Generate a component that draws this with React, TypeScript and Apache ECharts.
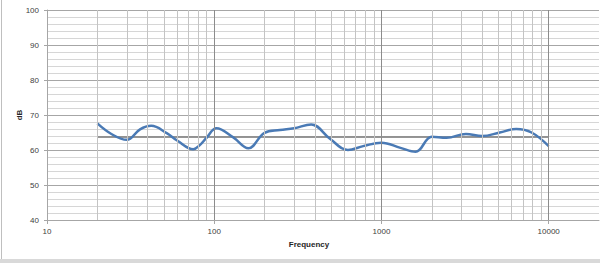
import React, { useEffect, useRef } from "react";
import * as echarts from "echarts";

// Frequency response (Hz -> dB)
const frequencies = [20, 24.4, 30, 36, 42, 52, 60, 75, 82, 90, 103, 130, 160, 200, 247, 300, 380, 490, 630, 778, 1000, 1300, 1600, 2000, 2450, 3200, 4000, 5100, 6400, 7900, 10000];
const levels = [67.6, 64.5, 62.9, 65.9, 66.9, 64.8, 62.7, 60.2, 61.4, 63.5, 66.2, 63.6, 60.5, 64.9, 65.7, 66.2, 67.3, 63.3, 60.0, 61.1, 62.1, 60.6, 59.5, 63.8, 63.5, 64.6, 64.0, 65.0, 66.0, 65.0, 61.1];

// Average level line
const averageLevel = 63.7;
const averageFrom = 20;
const averageTo = 10000;

// Vertical grid lines (Hz)
const gridFrequencies = [20, 30, 40, 50, 60, 70, 80, 90, 100, 200, 300, 400, 500, 600, 700, 800, 900, 1000, 2000, 3000, 4000, 5000, 6000, 7000, 8000, 9000, 10000];
const decadeFrequencies = [100, 1000, 10000];

// Axis ticks / labels
const xTickValues = [10, 100, 1000, 10000];
const yMin = 40;
const yMax = 100;
const yStep = 10;

const FONT = "Liberation Sans";

export default function App() {
  const ref = useRef<HTMLDivElement>(null);

  useEffect(() => {
    if (!ref.current) return;
    const chart = echarts.init(ref.current, undefined, { renderer: "svg" });

    const curve = frequencies.map((f, i) => [f, levels[i]]);

    chart.setOption({
      animation: false,
      backgroundColor: "#ffffff",
      grid: { left: 47, right: 1, top: 10, bottom: 43, containLabel: false },
      xAxis: {
        type: "log",
        logBase: 10,
        min: 10,
        max: 20000,
        axisLine: { show: true, lineStyle: { color: "#a6a6a6", width: 1 } },
        axisTick: { show: true, length: 4, customValues: xTickValues, lineStyle: { color: "#a6a6a6" } },
        axisLabel: {
          customValues: xTickValues,
          color: "#404040",
          fontFamily: FONT,
          fontSize: 8,
          margin: 7,
          formatter: (v: number) => String(Math.round(v)),
        },
        splitLine: { show: false },
        minorSplitLine: { show: false },
      },
      yAxis: {
        type: "value",
        min: yMin,
        max: yMax,
        interval: yStep,
        axisLine: { show: true, lineStyle: { color: "#a6a6a6", width: 1 } },
        axisTick: { show: true, length: 3, lineStyle: { color: "#a6a6a6" } },
        axisLabel: { color: "#404040", fontFamily: FONT, fontSize: 8, margin: 8 },
        splitLine: { show: true, lineStyle: { color: "#a6a6a6", width: 1 } },
        minorTick: { show: false, splitNumber: 5 },
        minorSplitLine: { show: true, lineStyle: { color: "#d6d6d6", width: 1 } },
      },
      series: [
        {
          type: "line",
          data: [],
          silent: true,
          markLine: {
            silent: true,
            symbol: "none",
            label: { show: false },
            animation: false,
            data: gridFrequencies.map((f) => ({
              xAxis: f,
              lineStyle: {
                type: "solid",
                width: 1,
                color: decadeFrequencies.includes(f) ? "#8c8c8c" : "#c4c4c4",
              },
            })),
          },
          z: 1,
        },
        {
          type: "line",
          data: [
            [averageFrom, averageLevel],
            [averageTo, averageLevel],
          ],
          symbol: "none",
          lineStyle: { color: "#404040", width: 1 },
          silent: true,
          z: 2,
        },
        {
          type: "line",
          data: curve,
          smooth: 0.4,
          symbol: "none",
          lineStyle: { color: "#4a7ab5", width: 2.5 },
          silent: true,
          z: 3,
        },
      ],
      graphic: [
        {
          type: "text",
          x: 309,
          y: 244,
          style: {
            text: "Frequency",
            fontFamily: FONT,
            fontSize: 8,
            fontWeight: "bold",
            fill: "#262626",
            align: "center",
            verticalAlign: "middle",
          },
        },
        {
          type: "text",
          x: 19,
          y: 115,
          rotation: Math.PI / 2,
          style: {
            text: "dB",
            fontFamily: FONT,
            fontSize: 8,
            fontWeight: "bold",
            fill: "#262626",
            align: "center",
            verticalAlign: "middle",
          },
        },
        {
          type: "line",
          shape: { x1: 1.5, y1: 0, x2: 1.5, y2: 260 },
          style: { stroke: "#bfbfbf", lineWidth: 1 },
        },
        {
          type: "rect",
          shape: { x: 0, y: 259, width: 600, height: 4 },
          style: { fill: "#d9d9d9" },
        },
      ],
    });

    return () => chart.dispose();
  }, []);

  return (
    <div
      ref={ref}
      style={{ position: "absolute", left: 0, top: 0, width: 600, height: 263 }}
    />
  );
}
